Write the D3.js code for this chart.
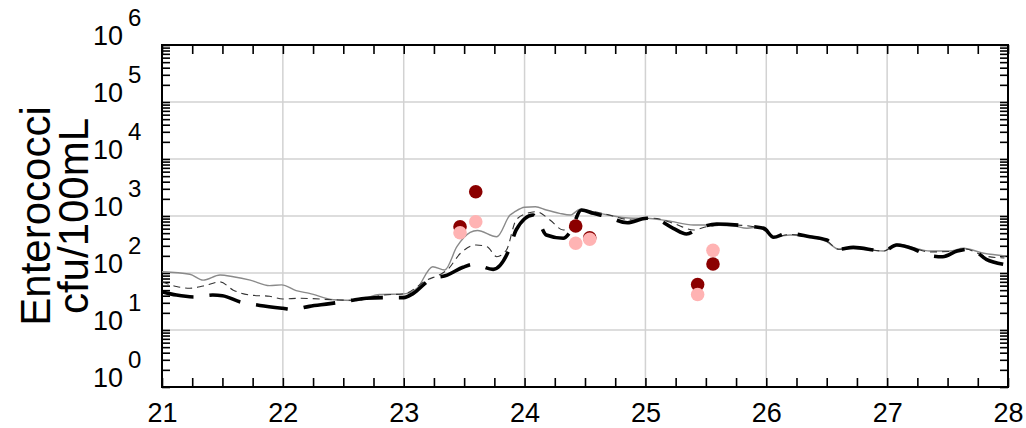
<!DOCTYPE html>
<html><head><meta charset="utf-8">
<script src="https://cdn.jsdelivr.net/npm/d3@7"></script>
<style>
html,body{margin:0;padding:0;background:#fff;}
svg{display:block;font-family:"Liberation Sans",Arial,Helvetica,sans-serif;}
</style></head>
<body>
<svg id="chart" width="1026" height="428"></svg>
<script>
// ---- data (day of month, Enterococci cfu/100mL) ----
const xTickLabels = [21, 22, 23, 24, 25, 26, 27, 28];
const yTickExponents = [0, 1, 2, 3, 4, 5, 6];

const modelSolid = [
  [21.00,105],[21.23,95],[21.34,75],[21.48,92],[21.59,86],[21.73,75],[21.89,60],[21.99,62],
  [22.11,49],[22.22,44],[22.42,34],[22.61,33],[22.80,42],[23.00,43],[23.11,54],[23.24,129],
  [23.34,113],[23.44,289],[23.55,514],[23.61,557],[23.77,433],[23.88,1042],[23.92,1189],
  [24.00,1422],[24.09,1456],[24.18,1274],[24.29,1114],[24.38,1042],[24.46,1312],[24.62,1114],
  [24.90,912],[25.01,912],[25.18,828],[25.40,695],[25.51,695],[25.73,668],[25.84,608],
  [25.95,649],[25.99,568],[26.06,433],[26.20,464],[26.36,433],[26.50,354],[26.60,261],
  [26.69,271],[26.97,243],[27.08,323],[27.24,271],[27.35,243],[27.52,243],[27.63,271],
  [27.80,222],[27.98,199]
];
const modelDashed = [
  [21.00,70],[21.12,58],[21.23,54],[21.34,59],[21.48,70],[21.59,50],[21.73,41],[21.89,39],
  [22.00,35],[22.14,36],[22.41,34],[22.61,33],[22.83,41],[23.00,43],[23.19,75],[23.32,99],
  [23.36,113],[23.47,222],[23.60,310],[23.69,289],[23.77,193],[23.85,253],[23.93,851],
  [24.02,1114],[24.10,1189],[24.21,851],[24.32,568],[24.38,649],[24.46,1274],[24.62,1142],
  [24.90,851],[25.07,912],[25.23,745],[25.40,568],[25.51,649],[25.73,695],[25.95,615],
  [26.06,428],[26.20,474],[26.36,428],[26.50,364],[26.60,261],[26.71,280],[26.97,243],
  [27.08,310],[27.24,264],[27.35,234],[27.52,238],[27.64,264],[27.81,199],[27.97,183]
];
const modelThick = [
  [21.00,47],[21.12,41],[21.27,38],[21.42,41],[21.50,40],[21.65,31],[21.81,27],[22.00,24],
  [22.08,23],[22.22,26],[22.39,29],[22.56,33],[22.69,36],[22.86,37],[23.00,37],[23.08,44],
  [23.22,77],[23.36,92],[23.49,126],[23.58,142],[23.74,116],[23.88,282],[23.93,568],
  [24.07,1042],[24.11,851],[24.18,464],[24.32,406],[24.38,531],[24.47,1274],[24.57,1114],
  [24.68,972],[24.85,763],[25.01,912],[25.09,875],[25.23,608],[25.34,483],[25.44,608],
  [25.59,724],[25.84,668],[25.98,608],[26.06,423],[26.17,497],[26.36,433],[26.50,379],
  [26.60,261],[26.72,282],[26.97,243],[27.08,310],[27.22,264],[27.33,207],[27.46,193],
  [27.58,243],[27.69,264],[27.82,174],[27.96,142]
];
const obsDark = [[23.466,649],[23.596,2670],[24.423,668],[24.539,416],[25.432,63],[25.559,144]];
const obsPink = [[23.466,509],[23.596,794],[24.423,332],[24.539,390],[25.432,42],[25.559,250]];

// ---- layout ----
const svg = d3.select("#chart");
const L = 162, R = 1008, T = 45, B = 387;
const x = d3.scaleLinear().domain([21, 28]).range([L, R]);
const y = d3.scaleLog().domain([1, 1e6]).range([B, T]);

// gridlines
const grid = svg.append("g").attr("stroke", "#d2d2d2").attr("stroke-width", 1.5);
grid.selectAll(".gx").data(xTickLabels.slice(1, -1)).join("line")
  .attr("x1", d => x(d)).attr("x2", d => x(d)).attr("y1", T).attr("y2", B);
grid.selectAll(".gy").data(yTickExponents.slice(1, -1)).join("line")
  .attr("x1", L).attr("x2", R).attr("y1", d => y(Math.pow(10, d))).attr("y2", d => y(Math.pow(10, d)));

// ticks via axes
const xMinor = d3.range(0, 29).map(i => 21 + i * 0.25);
const yMinor = [];
for (let e = 0; e < 6; e++) for (let k = 1; k <= 9; k++) yMinor.push(k * Math.pow(10, e));
yMinor.push(1e6);

function styleAxis(g) {
  g.select(".domain").remove();
  g.selectAll(".tick line").attr("stroke", "#000").attr("stroke-width", 1.6);
}
const xb = svg.append("g").attr("transform", `translate(0,${B})`)
  .call(d3.axisBottom(x).tickValues(xMinor).tickSize(-9).tickPadding(16)
    .tickFormat(d => Number.isInteger(d) ? d : ""));
styleAxis(xb);
xb.selectAll("text").attr("font-size", 27).attr("fill", "#000")
  .attr("font-family", "'Liberation Sans',Arial,sans-serif");
const xt = svg.append("g").attr("transform", `translate(0,${T})`)
  .call(d3.axisTop(x).tickValues(xMinor).tickSize(-9).tickFormat(""));
styleAxis(xt);
const yl = svg.append("g").attr("transform", `translate(${L},0)`)
  .call(d3.axisLeft(y).tickValues(yMinor).tickSize(-8).tickFormat(""));
styleAxis(yl);
const yr = svg.append("g").attr("transform", `translate(${R},0)`)
  .call(d3.axisRight(y).tickValues(yMinor).tickSize(-8).tickFormat(""));
styleAxis(yr);

// y labels 10^n
const yLab = svg.append("g").attr("fill", "#000");
yTickExponents.forEach(e => {
  const yy = y(Math.pow(10, e));
  yLab.append("text").attr("x", 123).attr("y", yy).attr("text-anchor", "end")
    .attr("font-size", 27).text("10");
  yLab.append("text").attr("x", 128).attr("y", yy - 19)
    .attr("font-size", 24).text(String(e));
});

// y-axis title
const title = svg.append("text").attr("transform", `translate(0,${(T + B) / 2}) rotate(-90)`)
  .attr("text-anchor", "middle").attr("font-size", 42).attr("fill", "#000");
title.append("tspan").attr("x", 0).attr("y", 50).text("Enterococci");
title.append("tspan").attr("x", 0).attr("y", 88).text("cfu/100mL");

// frame
svg.append("rect").attr("x", L).attr("y", T).attr("width", R - L).attr("height", B - T)
  .attr("fill", "none").attr("stroke", "#000").attr("stroke-width", 2);

// lines
const line = d3.line().x(d => x(d[0])).y(d => y(d[1])).curve(d3.curveMonotoneX);
svg.append("path").datum(modelSolid).attr("d", line)
  .attr("fill", "none").attr("stroke", "#8a8a8a").attr("stroke-width", 1.4);
svg.append("path").datum(modelDashed).attr("d", line)
  .attr("fill", "none").attr("stroke", "#333").attr("stroke-width", 1.1)
  .attr("stroke-dasharray", "7,5");
svg.append("path").datum(modelThick).attr("d", line)
  .attr("fill", "none").attr("stroke", "#000").attr("stroke-width", 3.6)
  .attr("stroke-dasharray", "32,16");

// observations
svg.append("g").selectAll("circle").data(obsDark).join("circle")
  .attr("cx", d => x(d[0])).attr("cy", d => y(d[1])).attr("r", 6.8).attr("fill", "#8b0000");
svg.append("g").selectAll("circle").data(obsPink).join("circle")
  .attr("cx", d => x(d[0])).attr("cy", d => y(d[1])).attr("r", 6.8).attr("fill", "#ffb3b3");
</script>
</body></html>
